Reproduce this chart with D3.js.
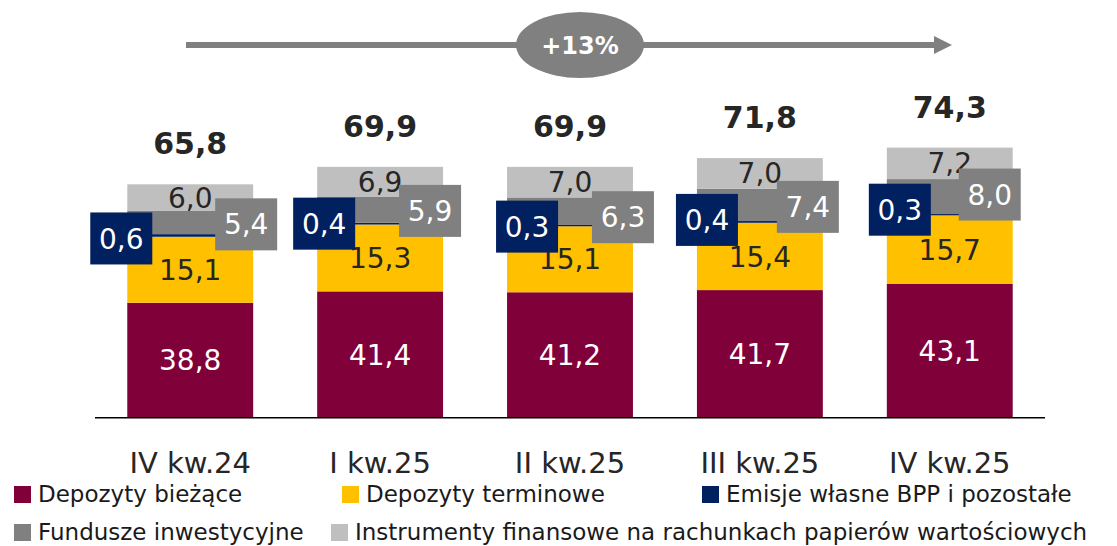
<!DOCTYPE html>
<html>
<head>
<meta charset="utf-8">
<script src="https://cdn.jsdelivr.net/npm/d3@7"></script>
<style>
  body { margin: 0; background: #fff; }
  text { font-family: "DejaVu Sans", sans-serif; }
</style>
</head>
<body>
<div id="chart"></div>
<script>
// dane (mld zł)
const categories = ["IV kw.24", "I kw.25", "II kw.25", "III kw.25", "IV kw.25"];
const depBiezace = [38.8, 41.4, 41.2, 41.7, 43.1];
const depTerminowe = [15.1, 15.3, 15.1, 15.4, 15.7];
const emisje = [0.6, 0.4, 0.3, 0.4, 0.3];
const fundusze = [5.4, 5.9, 6.3, 7.4, 8.0];
const instrumenty = [6.0, 6.9, 7.0, 7.0, 7.2];
const totals = [65.8, 69.9, 69.9, 71.8, 74.3];
const growthLabel = "+13%";

const seriesNames = [
  "Depozyty bieżące",
  "Depozyty terminowe",
  "Emisje własne BPP i pozostałe",
  "Fundusze inwestycyjne",
  "Instrumenty finansowe na rachunkach papierów wartościowych"
];
const keys = ["biez", "term", "emis", "fund", "instr"];
const colors = ["#80003a", "#ffc000", "#002060", "#808080", "#bfbfbf"];

// ręczne przesunięcia etykiet (jak w oryginale)
const navyDx = [-6, 7, 20, 10, 13];
const navyDy = [3, 0, 1, -2, -5];
const grayDx = [-7, -13, -10, -15, -23];
const grayDy = [2, 1, 6, 2, -2];

const W = 1117, H = 546;
const fmt = v => d3.format(".1f")(v).replace(".", ",");

const table = categories.map((c, i) => ({
  cat: c, biez: depBiezace[i], term: depTerminowe[i], emis: emisje[i],
  fund: fundusze[i], instr: instrumenty[i]
}));
const stacked = d3.stack().keys(keys)(table);

const svg = d3.select("#chart").append("svg")
  .attr("width", W).attr("height", H);

const x = d3.scaleBand().domain(categories).range([95, 1045])
  .paddingInner(0.337).paddingOuter(0.17);
// oś nie zaczyna się od zera
const y = d3.scaleLinear().domain([12.5, 80]).range([417.7, 122.7]).clamp(true);

// słupki
stacked.forEach((s, si) => {
  svg.append("g").selectAll("rect").data(s).join("rect")
    .attr("x", d => x(d.data.cat))
    .attr("width", x.bandwidth())
    .attr("y", d => y(d[1]))
    .attr("height", d => y(d[0]) - y(d[1]))
    .attr("fill", colors[si]);
});

// oś X
svg.append("line")
  .attr("x1", 95).attr("x2", 1045)
  .attr("y1", y(12.5)).attr("y2", y(12.5))
  .attr("stroke", "#000").attr("stroke-width", 1.5);

svg.append("g").selectAll("text").data(categories).join("text")
  .attr("x", d => x(d) + x.bandwidth() / 2)
  .attr("y", 473)
  .attr("text-anchor", "middle")
  .style("font-size", "29px")
  .attr("fill", "#262626")
  .text(d => d);

// etykiety w segmentach (bieżące, terminowe, instrumenty)
[[0, "#fff"], [1, "#262626"], [4, "#262626"]].forEach(([si, col]) => {
  svg.append("g").selectAll("text").data(stacked[si]).join("text")
    .attr("x", d => x(d.data.cat) + x.bandwidth() / 2)
    .attr("y", d => (y(d[0]) + y(d[1])) / 2)
    .attr("dy", "0.36em")
    .attr("text-anchor", "middle")
    .style("font-size", "28px")
    .attr("fill", col)
    .text(d => fmt(d.data[keys[si]]));
});

// etykiety w ramkach (emisje, fundusze)
function boxLabels(si, fill, cx) {
  const g = svg.append("g").selectAll("g").data(stacked[si]).join("g")
    .attr("transform", (d, i) => {
      const cy = (y(d[0]) + y(d[1])) / 2 + (si === 2 ? navyDy[i] : grayDy[i]);
      return `translate(${cx(d, i)},${cy})`;
    });
  g.append("rect")
    .attr("x", -31).attr("y", -26)
    .attr("width", 62).attr("height", 52)
    .attr("fill", fill);
  g.append("text")
    .attr("dy", "0.36em")
    .attr("text-anchor", "middle")
    .style("font-size", "28px")
    .attr("fill", "#fff")
    .text(d => fmt(d.data[keys[si]]));
}
boxLabels(2, colors[2], (d, i) => x(d.data.cat) + navyDx[i]);
boxLabels(3, colors[3], (d, i) => x(d.data.cat) + x.bandwidth() + grayDx[i]);

// sumy
const topLayer = stacked[stacked.length - 1];
svg.append("g").selectAll("text").data(topLayer).join("text")
  .attr("x", d => x(d.data.cat) + x.bandwidth() / 2)
  .attr("y", d => y(d[1]) - 30)
  .attr("text-anchor", "middle")
  .style("font-size", "30px")
  .style("font-weight", "bold")
  .attr("fill", "#262626")
  .text((d, i) => fmt(totals[i]));

// strzałka wzrostu
const arrowY = 45;
svg.append("defs").append("marker")
  .attr("id", "head")
  .attr("viewBox", "0 0 10 10")
  .attr("refX", 0).attr("refY", 5)
  .attr("markerWidth", 3).attr("markerHeight", 3)
  .attr("orient", "auto")
  .append("path").attr("d", "M0,0L10,5L0,10Z").attr("fill", "#808080");

svg.append("line")
  .attr("x1", 186).attr("x2", 934)
  .attr("y1", arrowY).attr("y2", arrowY)
  .attr("stroke", "#808080").attr("stroke-width", 6)
  .attr("marker-end", "url(#head)");

svg.append("ellipse")
  .attr("cx", 580).attr("cy", arrowY)
  .attr("rx", 64).attr("ry", 33)
  .attr("fill", "#808080");
svg.append("text")
  .attr("x", 580).attr("y", arrowY)
  .attr("dy", "0.36em")
  .attr("text-anchor", "middle")
  .style("font-size", "24px")
  .style("font-weight", "bold")
  .attr("fill", "#fff")
  .text(growthLabel);

// legenda
const legendPos = [[14, 486], [342, 486], [702, 486], [14, 524], [331, 524]];
seriesNames.forEach((name, i) => {
  const g = svg.append("g")
    .attr("transform", `translate(${legendPos[i][0]},${legendPos[i][1]})`);
  g.append("rect")
    .attr("width", 17).attr("height", 17)
    .attr("fill", colors[i]);
  g.append("text")
    .attr("x", 24).attr("y", 16)
    .style("font-size", "23px")
    .attr("fill", "#1a1a1a")
    .text(name);
});
</script>
</body>
</html>
